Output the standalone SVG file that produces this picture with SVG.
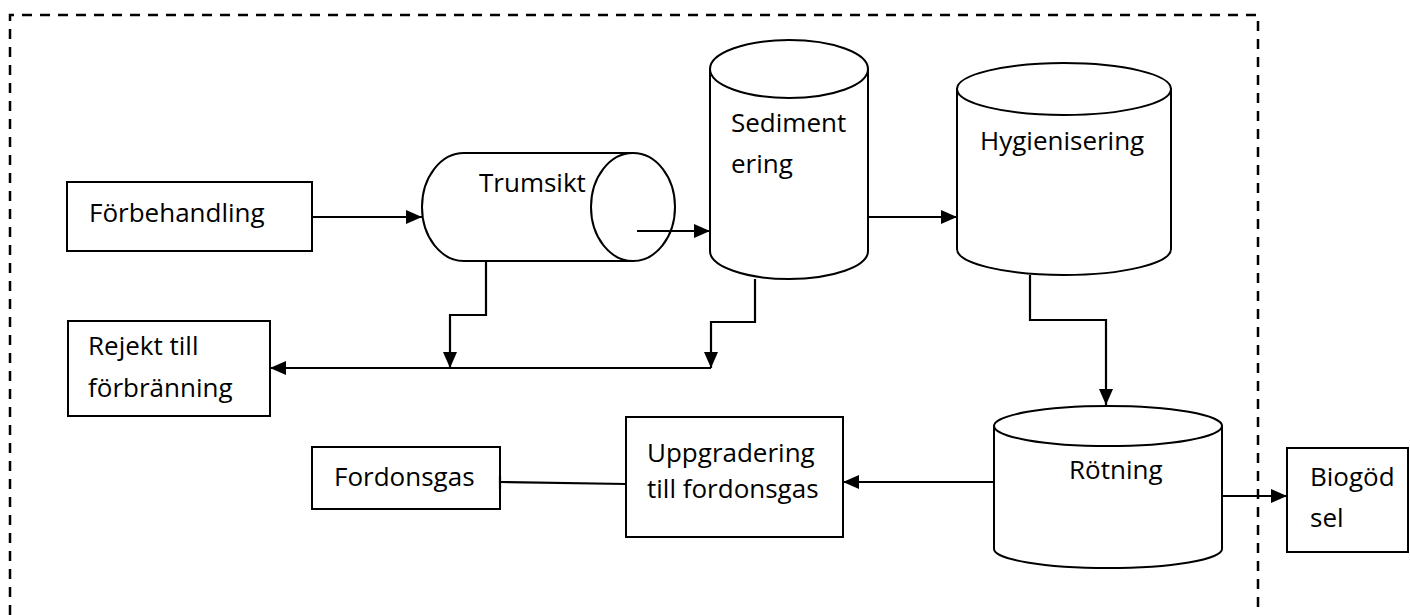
<svg xmlns="http://www.w3.org/2000/svg" width="1410" height="615" viewBox="0 0 1410 615">
<style>
.s{fill:#fff;stroke:#000;stroke-width:2}
.t{font-family:"Open Sans","Noto Sans",sans-serif;font-size:26px;fill:#000}
.c{fill:none;stroke:#000;stroke-width:2.2}
.b{fill:none;stroke:#000;stroke-width:2.5;stroke-dasharray:10 8}
</style>
<defs>
<marker id="ah" markerWidth="16" markerHeight="14" refX="16" refY="7" orient="auto" markerUnits="userSpaceOnUse">
<path d="M0,0 L16,7 L0,14 Z" fill="#000"/>
</marker>
</defs>
<rect width="1410" height="615" fill="#fff"/>
<path class="b" d="M10,615 V15 H1258 V615"/>
<g id="forbehandling"><rect class="s" x="67" y="182" width="245" height="69"/><text class="t" x="89" y="222">Förbehandling</text></g>
<g id="trumsikt"><path class="s" d="M464,153 H633 V261 H464 A42,54 0 0 1 464,153 Z"/><ellipse class="s" cx="633" cy="207" rx="42" ry="54"/><text class="t" x="479" y="192">Trumsikt</text></g>
<g id="sedimentering"><path class="s" d="M710,69 V251 A79,28 0 0 0 868,251 V69 Z"/><ellipse class="s" cx="789" cy="69" rx="79" ry="29"/><text class="t" x="731" y="132">Sediment</text><text class="t" x="731" y="173">ering</text></g>
<g id="hygienisering"><path class="s" d="M957,89 V249 A107,26 0 0 0 1171,249 V89 Z"/><ellipse class="s" cx="1064" cy="89" rx="107" ry="26"/><text class="t" x="980" y="150">Hygienisering</text></g>
<g id="rotning"><path class="s" d="M994,426 V549 A114,19 0 0 0 1222,549 V426 Z"/><ellipse class="s" cx="1108" cy="426" rx="114" ry="20"/><text class="t" x="1069" y="479">Rötning</text></g>
<g id="biogodsel"><rect class="s" x="1287" y="448" width="121" height="104"/><text class="t" x="1310" y="486">Biogöd</text><text class="t" x="1310" y="527">sel</text></g>
<g id="uppgradering"><rect class="s" x="626" y="417" width="217" height="120"/><text class="t" x="647" y="462">Uppgradering</text><text class="t" x="647" y="498">till fordonsgas</text></g>
<g id="fordonsgas"><rect class="s" x="312" y="447" width="188" height="62"/><text class="t" x="334" y="486">Fordonsgas</text></g>
<g id="rejekt"><rect class="s" x="68" y="321" width="202" height="95"/><text class="t" x="88" y="355">Rejekt till</text><text class="t" x="88" y="397">förbränning</text></g>
<g id="connectors">
<path class="c" d="M312,217 H422" marker-end="url(#ah)"/>
<path class="c" d="M637,231 H710" marker-end="url(#ah)"/>
<path class="c" d="M868,217 H957" marker-end="url(#ah)"/>
<path class="c" d="M1030,275 V320 H1106 V405" marker-end="url(#ah)"/>
<path class="c" d="M1222,496 H1287" marker-end="url(#ah)"/>
<path class="c" d="M994,482 H843" marker-end="url(#ah)"/>
<path class="c" d="M626,484 L500,482"/>
<path class="c" d="M500,476 V489"/>
<path class="c" d="M486,261 V315 H450 V368" marker-end="url(#ah)"/>
<path class="c" d="M755,279 V322 H711 V368" marker-end="url(#ah)"/>
<path class="c" d="M711,368 H270" marker-end="url(#ah)"/>
</g>
</svg>
